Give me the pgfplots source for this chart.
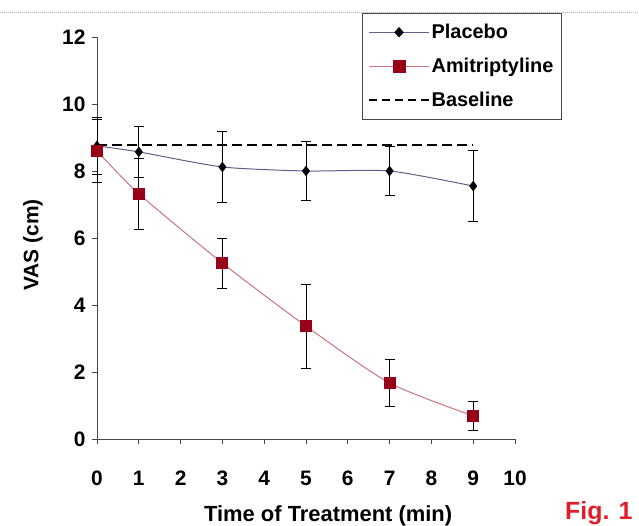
\documentclass[border=0pt]{standalone}
\usepackage{pgfplots}
\pgfplotsset{compat=1.18}
\usepackage{fontspec}
\setmainfont{Liberation Sans}
\definecolor{placeboLine}{RGB}{95,95,140}
\definecolor{amiLine}{RGB}{205,115,125}
\definecolor{amiMark}{RGB}{150,0,25}
\definecolor{figRed}{RGB}{225,30,40}
\definecolor{axisGray}{RGB}{70,70,70}

\begin{document}
\begin{tikzpicture}[x=1bp,y=1bp]
    \path[use as bounding box] (0,0) rectangle (639,526);
    % scanned page rule at the top
    \draw[gray!60, densely dotted, line width=1bp] (0,513) -- (639,513);
    \begin{axis}[
        at={(97bp,87bp)}, anchor=south west,
        scale only axis, width=418bp, height=402bp,
        xmin=0, xmax=10, ymin=0, ymax=12,
        axis lines=left,
        axis line style={-, line width=0.8bp, axisGray},
        xtick={0,1,...,10}, ytick={0,2,...,12},
        tick align=outside, major tick length=5bp,
        tick style={axisGray, line width=0.8bp},
        ticklabel style={font=\fontsize{21}{23}\selectfont\bfseries},
        /pgf/number format/assume math mode=true,
        xticklabel style={anchor=base, yshift=-42bp},
        yticklabel style={xshift=-3bp},
        xlabel={Time of Treatment (min)},
        ylabel={VAS (cm)},
        label style={font=\fontsize{21}{23}\selectfont\bfseries},
        xlabel style={at={(axis description cs:0.553,-0.205)}, anchor=base,
            font=\fontsize{22}{24}\selectfont\bfseries},
        ylabel style={at={(axis description cs:-0.153,0.483)}, anchor=center},
        legend style={at={(axis description cs:0.634,1.06)}, anchor=north west,
            draw=axisGray, line width=0.8bp, fill=white,
            font=\fontsize{20}{22}\selectfont\bfseries,
            inner xsep=6bp, inner ysep=9bp, row sep=14bp,
            /tikz/every even column/.append style={column sep=2bp}},
        legend cell align=left,
        clip=false,
    ]
        % Placebo
        \addplot[placeboLine, line width=1bp, smooth, tension=0.4,
            mark=diamond*, mark size=4.5bp,
            mark options={solid, fill=black, draw=black},
            error bars/.cd, y dir=both, y explicit,
            error mark options={black, rotate=90, mark size=5bp, line width=0.8bp},
            error bar style={black, line width=0.8bp},
            /pgfplots/legend image code/.code={
                \draw[placeboLine, line width=1bp] (0bp,0bp) -- (60bp,0bp);
                \fill[black] (30bp,4.5bp) -- (34bp,0bp) -- (30bp,-4.5bp) -- (26bp,0bp) -- cycle;}]
        coordinates {
            (0,8.75) +- (0,0.85)
            (1,8.57) +- (0,0.75)
            (3,8.12) +- (0,1.05)
            (5,8.00) +- (0,0.87)
            (7,8.00) +- (0,0.74)
            (9,7.55) +- (0,1.06)
        };
        \addlegendentry{Placebo}
        % Amitriptyline
        \addplot[amiLine, line width=1bp, smooth, tension=0.4,
            mark=square*, mark size=5.5bp,
            mark options={solid, fill=amiMark, draw=amiMark},
            error bars/.cd, y dir=both, y explicit,
            error mark options={black, rotate=90, mark size=5bp, line width=0.8bp},
            error bar style={black, line width=0.8bp},
            /pgfplots/legend image code/.code={
                \draw[amiLine, line width=1bp] (0bp,0bp) -- (60bp,0bp);
                \fill[amiMark] (24bp,-6bp) rectangle (36bp,6bp);}]
        coordinates {
            (0,8.60) +- (0,0.95)
            (1,7.32) +- (0,1.05)
            (3,5.25) +- (0,0.75)
            (5,3.37) +- (0,1.25)
            (7,1.67) +- (0,0.70)
            (9,0.69) +- (0,0.44)
        };
        \addlegendentry{Amitriptyline}
        % Baseline
        \addplot[black, line width=2.6bp, dash pattern=on 10bp off 5bp,
            /pgfplots/legend image code/.code={
                \draw[black, line width=1.2bp, dash pattern=on 8bp off 5bp] (0bp,0bp) -- (60bp,0bp);}]
        coordinates {(0,8.78) (9,8.78)};
        \addlegendentry{Baseline}
    \end{axis}
    \node[font=\fontsize{25}{27}\selectfont\bfseries, text=figRed, anchor=base east] at (636,6) {Fig. 1};
\end{tikzpicture}
\end{document}
